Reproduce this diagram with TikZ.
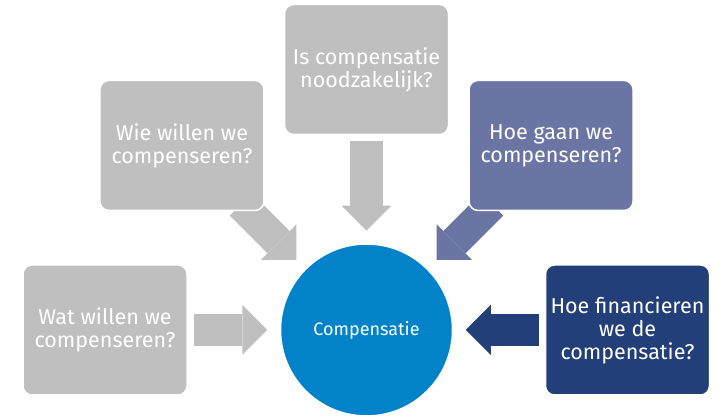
\documentclass[tikz,border=0pt]{standalone}
\usepackage{fontspec}
\setmainfont{Fira Sans}
\usetikzlibrary{arrows.meta,backgrounds}
\definecolor{boxgrey}{RGB}{191,191,191}
\definecolor{gaanblue}{RGB}{106,117,163}
\definecolor{finblue}{RGB}{34,63,122}
\definecolor{compblue}{RGB}{2,131,201}
\begin{document}
\begin{tikzpicture}[x=1pt, y=1pt,
    box/.style={draw=white, line width=1.5pt, rounded corners=9pt,
      minimum width=164pt, minimum height=130pt, inner sep=0pt,
      align=center, text=white, font=\fontsize{21.5}{23}\selectfont},
    bigarrow/.style={line width=31.5pt, shorten >=12.5pt,
      -{Triangle[length=25pt, width=50pt, line width=0pt]}}]
  \useasboundingbox (0,0) rectangle (723,419);
  \node[circle, fill=compblue, draw=white, line width=1.5pt, minimum size=172pt,
    text=white, font=\fontsize{18}{20}\selectfont] (comp) at (366.5,89) {Compensatie};
  \node[box, fill=boxgrey] (wat) at ([shift={(180:261.5)}]comp) {Wat willen we\\compenseren?};
  \node[box, fill=boxgrey] (wie) at ([shift={(135:261)}]comp) {Wie willen we\\compenseren?};
  \node[box, fill=boxgrey] (is) at ([shift={(90:260.5)}]comp) {Is compensatie\\noodzakelijk?};
  \node[box, fill=gaanblue] (gaan) at ([shift={(45:261)}]comp) {Hoe gaan we\\compenseren?};
  \node[box, fill=finblue] (fin) at ([shift={(0:261)}]comp) {Hoe financieren\\we de\\compensatie?};
  % arrows behind the boxes
  \begin{scope}[on background layer]
    \draw[bigarrow, boxgrey, shorten <=6pt] (wat) -- (comp);
    \draw[bigarrow, boxgrey, shorten <=-9.5pt] (wie) -- (comp);
    \draw[bigarrow, boxgrey, shorten <=6.25pt, line width=33pt] (is) -- (comp);
    \draw[bigarrow, gaanblue, shorten <=-9.5pt] (gaan) -- (comp);
    \draw[bigarrow, finblue, shorten <=6pt] (fin) -- (comp);
  \end{scope}
\end{tikzpicture}
\end{document}
